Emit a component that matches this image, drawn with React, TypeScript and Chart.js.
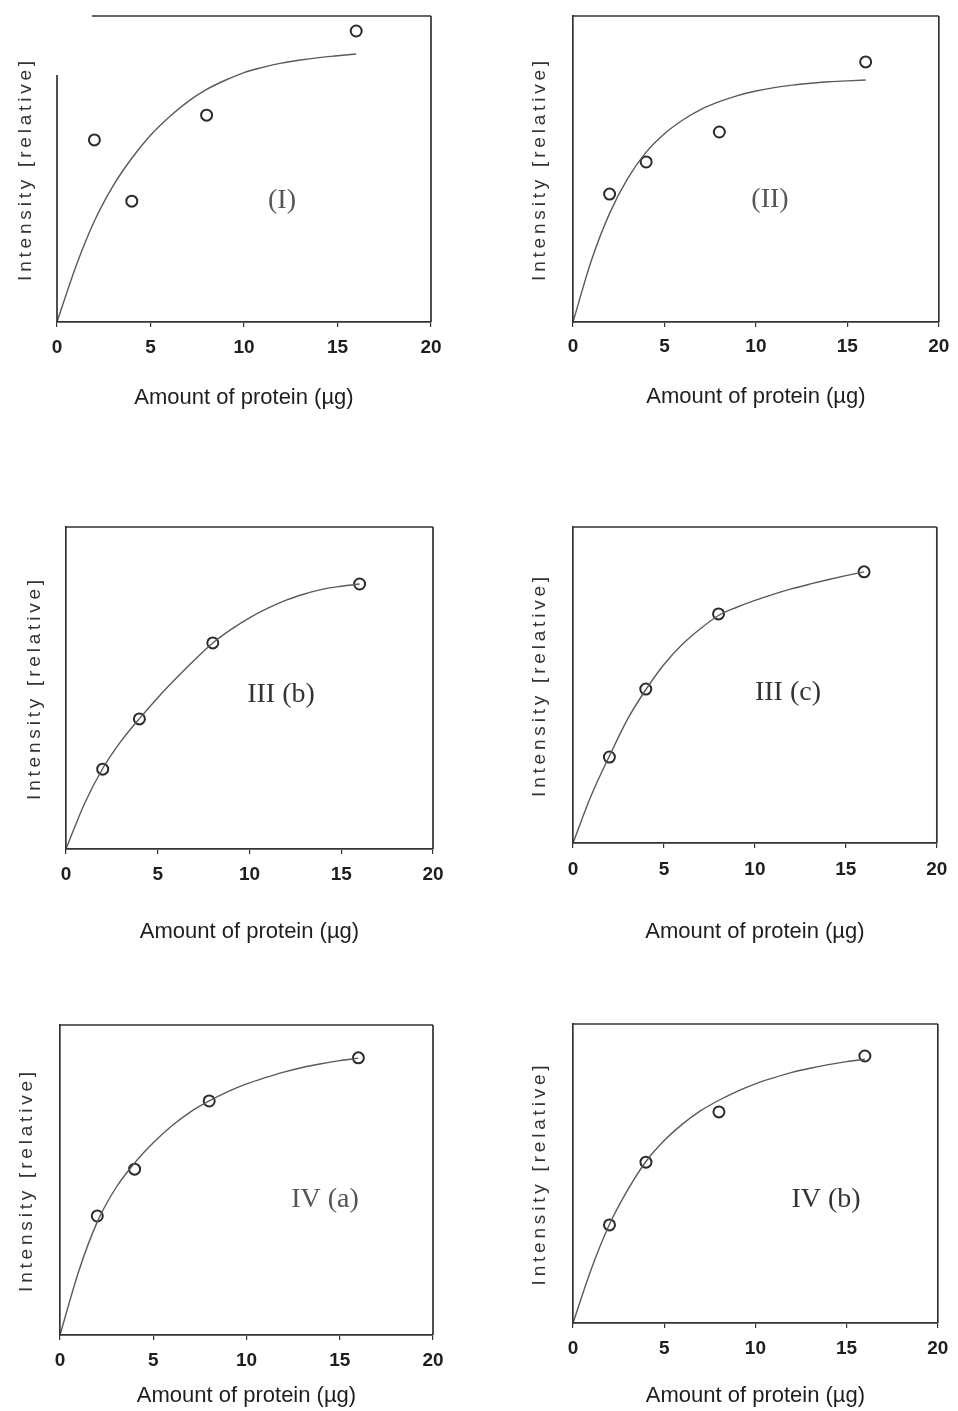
import React, { useEffect, useRef } from "react";
import { Chart, registerables } from "chart.js";

Chart.register(...registerables);

// ---------- DATA ----------
const xTickValues = [0, 5, 10, 15, 20];
const proteinAmounts = [2, 4, 8, 16];
const fitX = [0, 1, 2, 3, 4, 5, 6, 7, 8, 9, 10, 11, 12, 13, 14, 15, 16];

const panelIPoints = [59.5, 39.5, 67.6, 95.1];
const panelIFit = [0, 18, 33, 44.5, 53.5, 61, 67, 72, 76, 79, 81.5, 83.2, 84.6, 85.6, 86.4, 87, 87.6];

const panelIIPoints = [41.8, 52.3, 62.1, 85.0];
const panelIIFit = [0, 20, 35.5, 47, 55.5, 61.5, 66, 69.5, 72, 74, 75.5, 76.6, 77.4, 78, 78.5, 78.8, 79.1];

const panelIIIbPoints = [24.8, 40.4, 64.0, 82.3];
const panelIIIbFit = [0, 14, 25, 33.5, 40.5, 47, 53, 58.7, 64, 68.2, 71.8, 74.8, 77.3, 79.2, 80.7, 81.6, 82.3];

const panelIIIcPoints = [27.2, 48.7, 72.5, 85.8];
const panelIIIcFit = [0, 15, 27.5, 39.2, 48.5, 56.5, 62.8, 67.8, 72, 74.6, 76.8, 78.7, 80.4, 81.9, 83.3, 84.6, 85.8];

const panelIVaPoints = [38.4, 53.5, 75.5, 89.4];
const panelIVaFit = [0, 20.5, 36.5, 47.5, 55.5, 62, 67.5, 72, 75.5, 78.5, 81, 83, 84.8, 86.3, 87.5, 88.5, 89.3];

const panelIVbPoints = [32.8, 53.8, 70.6, 89.3];
const panelIVbFit = [0, 18, 33, 44.5, 54, 61, 66.5, 71, 74.5, 77.5, 80, 82, 83.8, 85.2, 86.4, 87.4, 88.2];

const xTitleText = "Amount of protein (\u00b5g)";
const yTitleText = "Intensity [relative]";

// ---------- LAYOUT / STYLE ----------
const TICK_FONT = 19;
const XT_FONT = 22;
const YT_FONT = 19;
const TICK_LEN = 5;

const panels = [
  { label: "(I)", points: panelIPoints, fit: panelIFit, labelColor: "#555",
    box: { left: 0, top: 0, w: 479, h: 430 }, area: { l: 57, r: 431, t: 16, b: 322 },
    tickY: 348, xTitleY: 398, yTitleX: 26, labelPos: [282, 201], topGap: 35, leftGap: 59 },
  { label: "(II)", points: panelIIPoints, fit: panelIIFit, labelColor: "#555",
    box: { left: 479, top: 0, w: 479, h: 430 }, area: { l: 573, r: 940, t: 16, b: 322 },
    tickY: 347, xTitleY: 397, yTitleX: 540, labelPos: [770, 200], topGap: 0, leftGap: 0 },
  { label: "III (b)", points: panelIIIbPoints, fit: panelIIIbFit, labelColor: "#333",
    box: { left: 0, top: 470, w: 479, h: 490 }, area: { l: 66, r: 433, t: 527, b: 849 },
    tickY: 875, xTitleY: 932, yTitleX: 35, labelPos: [281, 695], topGap: 0, leftGap: 0 },
  { label: "III (c)", points: panelIIIcPoints, fit: panelIIIcFit, labelColor: "#333",
    box: { left: 479, top: 470, w: 479, h: 490 }, area: { l: 573, r: 942, t: 527, b: 843 },
    tickY: 870, xTitleY: 932, yTitleX: 540, labelPos: [788, 693], topGap: 0, leftGap: 0 },
  { label: "IV (a)", points: panelIVaPoints, fit: panelIVaFit, labelColor: "#555",
    box: { left: 0, top: 990, w: 479, h: 421 }, area: { l: 60, r: 433, t: 1025, b: 1335 },
    tickY: 1361, xTitleY: 1396, yTitleX: 27, labelPos: [325, 1200], topGap: 0, leftGap: 0 },
  { label: "IV (b)", points: panelIVbPoints, fit: panelIVbFit, labelColor: "#333",
    box: { left: 479, top: 990, w: 479, h: 421 }, area: { l: 573, r: 949, t: 1024, b: 1323 },
    tickY: 1349, xTitleY: 1396, yTitleX: 540, labelPos: [826, 1200], topGap: 0, leftGap: 0 },
];

const framePlugin = {
  id: "panelFrame",
  afterDatasetsDraw(chart: any, _args: any, opts: any) {
    chart.ctx.letterSpacing = opts.ySpacing || "0px";
  },
  afterDraw(chart: any, _args: any, opts: any) {
    const ctx = chart.ctx;
    ctx.letterSpacing = "0px";
    const { left, right, top, bottom } = chart.chartArea;
    ctx.save();
    ctx.strokeStyle = "#333";
    ctx.lineWidth = 1.7;
    ctx.beginPath();
    ctx.moveTo(left + (opts.topGap || 0), top);
    ctx.lineTo(right, top);
    ctx.moveTo(right, top);
    ctx.lineTo(right, bottom);
    if (opts.leftGap) {
      ctx.moveTo(left, top + opts.leftGap);
      ctx.lineTo(left, bottom);
    }
    ctx.stroke();
    ctx.fillStyle = opts.labelColor;
    ctx.font = "28px 'Liberation Serif', 'Times New Roman', serif";
    ctx.textAlign = "center";
    ctx.textBaseline = "middle";
    ctx.fillText(opts.label, opts.labelX, opts.labelY);
    ctx.restore();
  },
};

function Panel({ p }: { p: any }) {
  const ref = useRef<HTMLCanvasElement>(null);
  useEffect(() => {
    const canvas = ref.current!;
    const yWidth = p.area.l - p.box.left;
    const rightPad = p.box.left + p.box.w - p.area.r;
    const topPad = p.area.t - p.box.top;
    const xHeight = p.box.top + p.box.h - p.area.b;
    const tickPad = p.tickY - p.area.b - TICK_LEN - (TICK_FONT * 1.2) / 2;
    const xTitlePad = p.box.top + p.box.h - p.xTitleY - (XT_FONT * 1.2) / 2;
    const yTitlePad = p.yTitleX - p.box.left - (YT_FONT * 1.2) / 2;
    const partialLeft = p.leftGap > 0;

    const chart = new Chart(canvas, {
      type: "line",
      data: {
        datasets: [
          {
            data: fitX.map((x, i) => ({ x, y: p.fit[i] })),
            borderColor: "#5a5a5a",
            borderWidth: 1.4,
            pointRadius: 0,
            cubicInterpolationMode: "monotone",
            fill: false,
          },
          {
            data: proteinAmounts.map((x, i) => ({ x, y: p.points[i] })),
            showLine: false,
            pointStyle: "circle",
            pointRadius: 5.5,
            pointBorderWidth: 2,
            pointBorderColor: "#2b2b2b",
            pointBackgroundColor: "rgba(255,255,255,0)",
          },
        ],
      },
      options: {
        responsive: false,
        animation: false,
        devicePixelRatio: 1,
        events: [],
        layout: { padding: { left: 0, top: topPad, right: rightPad, bottom: 0 } },
        plugins: {
          legend: { display: false },
          tooltip: { enabled: false },
          panelFrame: {
            topGap: p.topGap,
            leftGap: p.leftGap,
            label: p.label,
            labelColor: p.labelColor,
            labelX: p.labelPos[0] - p.box.left,
            labelY: p.labelPos[1] - p.box.top,
            ySpacing: "3.8px",
          },
        } as any,
        scales: {
          x: {
            type: "linear",
            min: 0,
            max: 20,
            afterBuildTicks: (s: any) => {
              s.ticks = xTickValues.map((v) => ({ value: v }));
            },
            afterFit: (s: any) => {
              s.height = xHeight;
            },
            ticks: {
              autoSkip: false,
              maxRotation: 0,
              padding: tickPad,
              color: "#1e1e1e",
              font: { family: "'Liberation Sans', Arial, sans-serif", size: TICK_FONT, weight: "bold" },
            },
            grid: { display: true, drawOnChartArea: false, drawTicks: true, tickLength: TICK_LEN, color: "#333", lineWidth: 1.2 },
            border: { display: true, color: "#333", width: 1.7 },
            title: {
              display: true,
              text: xTitleText,
              color: "#1e1e1e",
              padding: { top: 0, bottom: xTitlePad },
              font: { family: "'Liberation Sans', Arial, sans-serif", size: XT_FONT },
            },
          },
          y: {
            type: "linear",
            min: 0,
            max: 100,
            afterFit: (s: any) => {
              s.width = yWidth;
            },
            ticks: { display: false },
            grid: { display: false, z: 1 },
            border: { display: !partialLeft, color: "#333", width: 1.7, z: 2 },
            title: {
              display: true,
              text: yTitleText,
              color: "#333",
              padding: { top: yTitlePad, bottom: 0 },
              font: { family: "'Liberation Sans', Arial, sans-serif", size: YT_FONT },
            },
          },
        },
      } as any,
      plugins: [framePlugin],
    });
    return () => chart.destroy();
  }, []);
  return (
    <canvas
      ref={ref}
      width={p.box.w}
      height={p.box.h}
      style={{ position: "absolute", left: p.box.left, top: p.box.top, width: p.box.w, height: p.box.h }}
    />
  );
}

export default function App() {
  return (
    <div style={{ position: "absolute", left: 0, top: 0, width: 958, height: 1411, background: "#fff", overflow: "hidden" }}>
      {panels.map((p, i) => (
        <Panel key={i} p={p} />
      ))}
    </div>
  );
}
